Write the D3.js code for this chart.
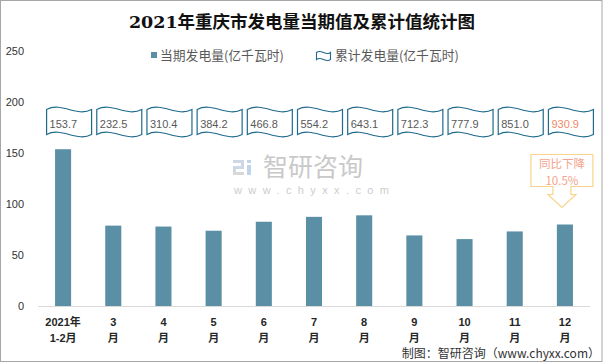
<!DOCTYPE html>
<html>
<head>
<meta charset="utf-8">
<script src="https://cdn.jsdelivr.net/npm/d3@7"></script>
<style>
  body { margin: 0; background: #fff; }
  svg { display: block; }
</style>
</head>
<body>
<script>
// data
const categories = ['2021年1-2月', '3月', '4月', '5月', '6月', '7月', '8月', '9月', '10月', '11月', '12月'];
const monthly = [153.7, 78.8, 77.9, 73.8, 82.6, 87.4, 88.9, 69.2, 65.6, 73.1, 79.9];
const cumulative = [153.7, 232.5, 310.4, 384.2, 466.8, 554.2, 643.1, 712.3, 777.9, 851.0, 930.9];
const yTicks = [0, 50, 100, 150, 200, 250];
const seriesNames = ['当期发电量(亿千瓦时)', '累计发电量(亿千瓦时)'];
const yoyText = ['同比下降', '10.5%'];

var w = 605, h = 363;
var sans = '"Liberation Sans", Arial, "Noto Sans CJK SC", sans-serif';
var cjk = '"Noto Sans CJK SC", "Liberation Sans", sans-serif';

var svg = d3.select('body').append('svg')
  .attr('width', w)
  .attr('height', h);

// outer frame
svg.append('rect')
  .attr('x', 0.5).attr('y', 0.5)
  .attr('width', 601.5).attr('height', 361)
  .attr('fill', '#fff')
  .attr('stroke', '#a6a6a6');

// scales
var xScale = d3.scaleBand()
  .domain(categories)
  .range([38, 590])
  .paddingInner(0.68)
  .paddingOuter(0.34);

var yScale = d3.scaleLinear()
  .domain([0, 250])
  .range([306, 51]);

function cx(d) { return xScale(d) + xScale.bandwidth() / 2; }

// watermark
var wm = svg.append('g').attr('opacity', 0.9);
wm.append('rect').attr('x', 233).attr('y', 160).attr('width', 11).attr('height', 3).attr('fill', '#c8d4e2');
wm.append('rect').attr('x', 241).attr('y', 160).attr('width', 3).attr('height', 8).attr('fill', '#c8d4e2');
wm.append('rect').attr('x', 233).attr('y', 166).attr('width', 11).attr('height', 3).attr('fill', '#c8d4e2');
wm.append('rect').attr('x', 233).attr('y', 166).attr('width', 3).attr('height', 9).attr('fill', '#c8d4e2');
wm.append('rect').attr('x', 233).attr('y', 172).attr('width', 11).attr('height', 3).attr('fill', '#d4d4d4');
wm.append('rect').attr('x', 247).attr('y', 160).attr('width', 4).attr('height', 3).attr('fill', '#b8d0ea');
wm.append('rect').attr('x', 247).attr('y', 165).attr('width', 4).attr('height', 10).attr('fill', '#b8d0ea');
wm.append('text')
  .attr('x', 263).attr('y', 176)
  .attr('font-family', cjk).attr('font-size', 25)
  .attr('fill', '#c4c4c4')
  .text('智研咨询');
wm.append('text')
  .attr('x', 234).attr('y', 194)
  .attr('font-family', sans).attr('font-size', 11)
  .attr('letter-spacing', 6.4)
  .attr('fill', '#c8c8c8')
  .text('www.chyxx.com');

// title
svg.append('text')
  .attr('x', 302).attr('y', 28)
  .attr('text-anchor', 'middle')
  .attr('font-family', '"DejaVu Serif", "Liberation Serif", "Noto Sans CJK SC", serif')
  .attr('font-weight', 'bold')
  .attr('font-size', 17.5)
  .attr('fill', '#111')
  .text('2021年重庆市发电量当期值及累计值统计图');

// wave shape used for the cumulative labels and legend
function wavePath(x0, y0, bw, bh, k) {
  var x1 = x0 + bw, y1 = y0 + bh;
  return 'M' + x0 + ',' + y0 +
    'C' + (x0 + bw / 3) + ',' + (y0 - k) + ' ' + (x0 + bw * 2 / 3) + ',' + (y0 + k) + ' ' + x1 + ',' + y0 +
    'L' + x1 + ',' + y1 +
    'C' + (x0 + bw * 2 / 3) + ',' + (y1 + k) + ' ' + (x0 + bw / 3) + ',' + (y1 - k) + ' ' + x0 + ',' + y1 + 'Z';
}

// legend
svg.append('rect')
  .attr('x', 151).attr('y', 52).attr('width', 6).attr('height', 6)
  .attr('fill', '#5b8fa6');
svg.append('text')
  .attr('x', 160).attr('y', 59.5)
  .attr('font-family', cjk).attr('font-size', 12.8)
  .attr('fill', '#595959')
  .text(seriesNames[0]);
svg.append('path')
  .attr('d', wavePath(316.5, 52.5, 14, 7, 4))
  .attr('fill', '#fff')
  .attr('stroke', '#1f6a8c')
  .attr('stroke-width', 1.1);
svg.append('text')
  .attr('x', 335).attr('y', 59.5)
  .attr('font-family', cjk).attr('font-size', 12.8)
  .attr('fill', '#595959')
  .text(seriesNames[1]);

// y axis labels
svg.selectAll('.ytick')
  .data(yTicks)
  .enter()
  .append('text')
  .attr('class', 'ytick')
  .attr('x', 24)
  .attr('y', function (d) { return yScale(d) + 4; })
  .attr('text-anchor', 'end')
  .attr('font-family', sans).attr('font-size', 11)
  .attr('fill', '#333')
  .text(function (d) { return d; });

// bars
svg.selectAll('.bar')
  .data(monthly)
  .enter()
  .append('rect')
  .attr('class', 'bar')
  .attr('x', function (d, i) { return xScale(categories[i]); })
  .attr('y', function (d) { return yScale(d); })
  .attr('width', xScale.bandwidth())
  .attr('height', function (d) { return yScale(0) - yScale(d); })
  .attr('fill', '#5b8fa6');

// x axis line
svg.append('line')
  .attr('x1', 38).attr('x2', 590)
  .attr('y1', yScale(0) + 0.5).attr('y2', yScale(0) + 0.5)
  .attr('stroke', '#d9d9d9');

// x labels (two lines)
function labelLines(d) {
  if (d.indexOf('年') >= 0) {
    var p = d.indexOf('年') + 1;
    return [d.slice(0, p), d.slice(p)];
  }
  return [d.slice(0, -1), '月'];
}
var xl = svg.selectAll('.xlabel')
  .data(categories)
  .enter()
  .append('text')
  .attr('class', 'xlabel')
  .attr('text-anchor', 'middle')
  .attr('font-family', sans).attr('font-weight', 'bold').attr('font-size', 11)
  .attr('fill', '#262626');
xl.each(function (d) {
  var t = d3.select(this);
  labelLines(d).forEach(function (s, j) {
    t.append('tspan')
      .attr('x', cx(d))
      .attr('y', 326 + j * 16)
      .text(s);
  });
});

// cumulative wave labels
var boxW = 45, boxH = 25;
var lab = svg.selectAll('.cum')
  .data(cumulative)
  .enter()
  .append('g')
  .attr('class', 'cum')
  .attr('transform', function (d, i) {
    return 'translate(' + (cx(categories[i]) - 16.5) + ',109.5)';
  });
lab.append('path')
  .attr('d', wavePath(0, 0, boxW, boxH, 8))
  .attr('fill', '#fff')
  .attr('stroke', '#1f6a8c')
  .attr('stroke-width', 1.2);
lab.append('text')
  .attr('x', 3)
  .attr('y', 18.5)
  .attr('font-family', sans).attr('font-size', 11)
  .attr('fill', function (d, i) { return i === cumulative.length - 1 ? '#f08a68' : '#595959'; })
  .text(function (d) { return d.toFixed(1); });

// yoy callout above the last bar
var lastCat = categories[categories.length - 1];
var lc = cx(lastCat);
var tipY = yScale(monthly[monthly.length - 1]) - 17;
var bx0 = lc - 34, bx1 = lc + 28, by0 = tipY - 53, by1 = tipY - 21;
var tx = lc - 3;
svg.append('path')
  .attr('d', 'M' + bx0 + ',' + by0 + 'L' + bx1 + ',' + by0 + 'L' + bx1 + ',' + by1 +
    'L' + (tx + 9) + ',' + by1 + 'L' + (tx + 9) + ',' + (by1 + 8) + 'L' + (tx + 14) + ',' + (by1 + 8) +
    'L' + tx + ',' + tipY + 'L' + (tx - 14) + ',' + (by1 + 8) + 'L' + (tx - 9) + ',' + (by1 + 8) +
    'L' + (tx - 9) + ',' + by1 + 'L' + bx0 + ',' + by1 + 'Z')
  .attr('fill', '#fff')
  .attr('stroke', '#f9d48c')
  .attr('stroke-width', 1.2);
svg.selectAll('.yoy')
  .data(yoyText)
  .enter()
  .append('text')
  .attr('class', 'yoy')
  .attr('x', (bx0 + bx1) / 2)
  .attr('y', function (d, i) { return by0 + 13.5 + i * 16.5; })
  .attr('text-anchor', 'middle')
  .attr('font-family', cjk).attr('font-size', 11.5)
  .attr('fill', '#f4a48c')
  .text(function (d) { return d; });

// source
svg.append('text')
  .attr('x', 600).attr('y', 358)
  .attr('text-anchor', 'end')
  .attr('font-family', cjk).attr('font-size', 12)
  .attr('fill', '#333')
  .text('制图：智研咨询（www.chyxx.com）');
</script>
</body>
</html>
